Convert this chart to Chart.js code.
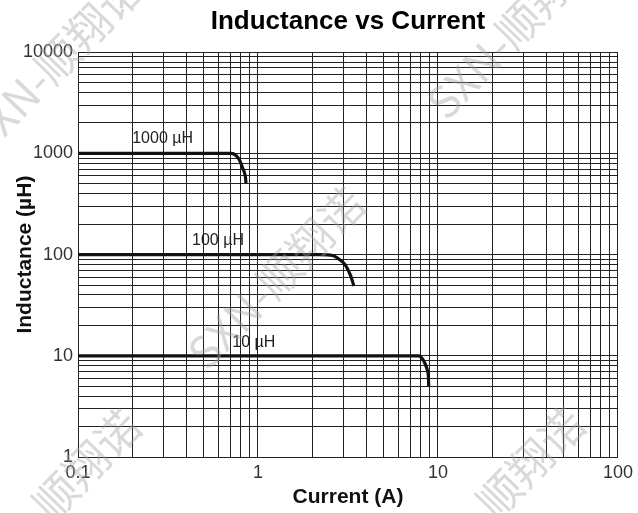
<!DOCTYPE html>
<html>
<head>
<meta charset="utf-8">
<script src="https://cdn.jsdelivr.net/npm/chart.js@4.4.0/dist/chart.umd.min.js"></script>
<style>
    body { margin: 0; background: #fff; }
    #wrap { width: 638px; height: 513px; position: relative; }
</style>
</head>
<body>
<div id="wrap"><canvas id="myChart"></canvas></div>
<script>
// decades and tick labels
const decadesX = [0.1, 1, 10, 100];
const xTickLabels = ['0.1', '1', '10', '100'];
const decadesY = [1, 10, 100, 1000, 10000];
const yTickLabels = ['1', '10', '100', '1000', '10000'];
const minorSteps = [1, 2, 3, 4, 5, 6, 7, 8, 9];

// curves (current A, inductance uH)
const curr1000 = [0.1, 0.71, 0.755, 0.788, 0.822, 0.851, 0.858];
const ind1000 = [1000, 1000, 955, 866, 716, 590, 508];
const curr100 = [0.1, 2.2, 2.6, 2.82, 3.07, 3.27, 3.41];
const ind100 = [100, 100, 98, 90, 78, 62, 49];
const curr10 = [0.1, 7.3, 7.81, 8.33, 8.69, 8.85, 8.88];
const ind10 = [10, 10, 10, 8.9, 7.4, 6.1, 5.0];

// curve labels and where they sit (data coords)
const seriesNames = ['1000 µH', '100 µH', '10 µH'];
const labelCurr = [0.2, 0.43, 0.72];
const labelInd = [1400, 139, 13.5];

const watermarkText = 'SXN-顺翔诺';

function logTicks(decades) {
    const ticks = [];
    for (let i = 0; i < decades.length - 1; i++) {
        minorSteps.forEach(s => ticks.push({ value: decades[i] * s }));
    }
    ticks.push({ value: decades[decades.length - 1] });
    return ticks;
}

function tickLabel(value, decades, labels) {
    const idx = decades.findIndex(d => Math.abs(d - value) / d < 1e-6);
    return idx >= 0 ? labels[idx] : '';
}

function toPoints(xs, ys) {
    return xs.map((x, i) => ({ x: x, y: ys[i] }));
}

const curveLabels = {
    id: 'curveLabels',
    afterDatasetsDraw(chart) {
        const ctx = chart.ctx;
        const sx = chart.scales.x, sy = chart.scales.y;
        ctx.save();
        ctx.font = "16px 'Liberation Sans', Arial, sans-serif";
        ctx.fillStyle = '#222';
        ctx.textAlign = 'left';
        ctx.textBaseline = 'middle';
        seriesNames.forEach((name, i) => {
            ctx.fillText(name, sx.getPixelForValue(labelCurr[i]), sy.getPixelForValue(labelInd[i]));
        });
        ctx.restore();
    }
};

const watermark = {
    id: 'watermark',
    afterDraw(chart) {
        const ctx = chart.ctx;
        const spots = [[54, 63], [515, 28], [276, 278], [52, 500], [496, 498]];
        ctx.save();
        ctx.font = "44px 'Noto Sans CJK SC', 'Noto Sans', sans-serif";
        ctx.fillStyle = 'rgba(160,160,160,0.4)';
        ctx.textAlign = 'center';
        ctx.textBaseline = 'middle';
        spots.forEach(p => {
            ctx.save();
            ctx.translate(p[0], p[1]);
            ctx.rotate(-0.8);
            ctx.fillText(watermarkText, 0, 0);
            ctx.restore();
        });
        ctx.restore();
    }
};

Chart.defaults.font.family = "'Liberation Sans', Arial, sans-serif";

const lineStyle = {
    borderColor: '#111',
    backgroundColor: '#111',
    borderWidth: 3.2,
    pointRadius: 0,
    cubicInterpolationMode: 'monotone',
    fill: false
};

const ctx = document.getElementById('myChart').getContext('2d');
new Chart(ctx, {
    type: 'line',
    data: {
        datasets: [
            Object.assign({ label: seriesNames[0], data: toPoints(curr1000, ind1000) }, lineStyle),
            Object.assign({ label: seriesNames[1], data: toPoints(curr100, ind100) }, lineStyle),
            Object.assign({ label: seriesNames[2], data: toPoints(curr10, ind10) }, lineStyle)
        ]
    },
    options: {
        responsive: true,
        maintainAspectRatio: false,
        animation: false,
        layout: { padding: { top: 0, right: 18, bottom: 0, left: 0 } },
        scales: {
            x: {
                type: 'logarithmic',
                min: 0.1,
                max: 100,
                afterBuildTicks: scale => { scale.ticks = logTicks(decadesX); },
                afterFit: scale => { scale.height = 56; },
                ticks: {
                    autoSkip: false,
                    maxRotation: 0,
                    padding: 5,
                    color: '#333',
                    font: { size: 18 },
                    callback: value => tickLabel(value, decadesX, xTickLabels)
                },
                grid: { color: '#222', lineWidth: 1, drawTicks: false },
                border: { color: '#222', width: 1 },
                title: {
                    display: true,
                    text: 'Current (A)',
                    color: '#111',
                    font: { size: 21, weight: 'bold' },
                    padding: { top: 0, bottom: 3 }
                }
            },
            y: {
                type: 'logarithmic',
                min: 1,
                max: 10000,
                afterBuildTicks: scale => { scale.ticks = logTicks(decadesY); },
                afterFit: scale => { scale.width = 78; },
                ticks: {
                    autoSkip: false,
                    padding: 5,
                    color: '#333',
                    font: { size: 18 },
                    callback: value => tickLabel(value, decadesY, yTickLabels)
                },
                grid: { color: '#222', lineWidth: 1, drawTicks: false },
                border: { color: '#222', width: 1 },
                title: {
                    display: true,
                    text: 'Inductance (µH)',
                    color: '#111',
                    font: { size: 21, weight: 'bold' },
                    padding: { top: 13, bottom: 0 }
                }
            }
        },
        plugins: {
            legend: { display: false },
            tooltip: { enabled: false },
            title: {
                display: true,
                text: 'Inductance vs Current',
                color: '#000',
                fullSize: false,
                font: { size: 26, weight: 'bold' },
                padding: { top: 6, bottom: 15 }
            }
        }
    },
    plugins: [curveLabels, watermark]
});
</script>
</body>
</html>
